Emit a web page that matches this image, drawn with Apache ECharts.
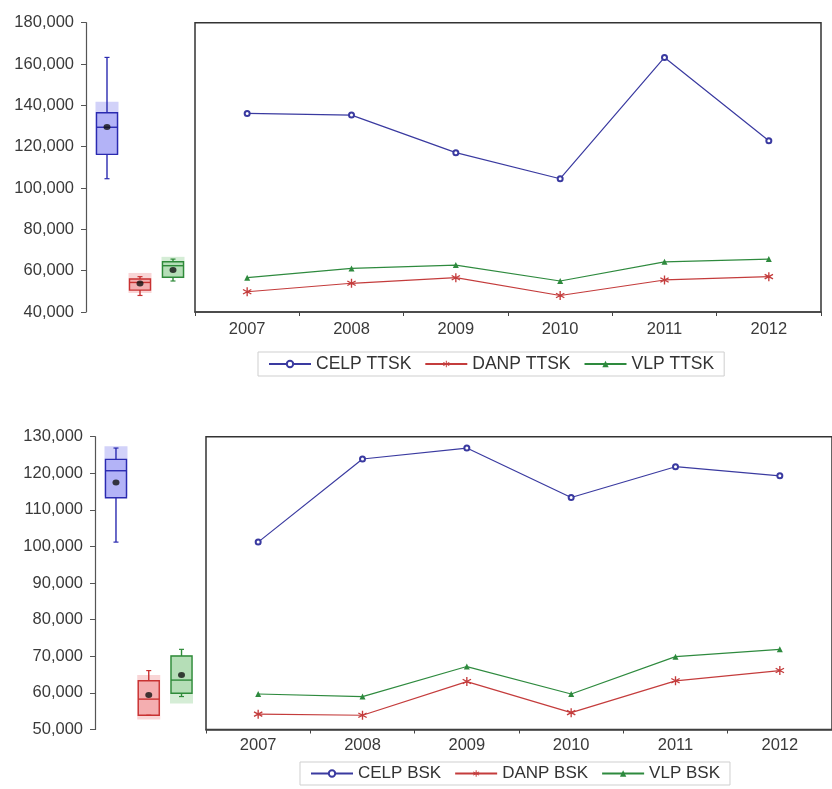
<!DOCTYPE html>
<html>
<head>
<meta charset="utf-8">
<script src="https://cdn.jsdelivr.net/npm/echarts@6/dist/echarts.min.js"></script>
<style>
  html, body { margin: 0; padding: 0; background: #ffffff; }
  #chart { width: 832px; height: 789px; }
</style>
</head>
<body>
<div id="chart"></div>
<script>
// ---------- data ----------
const years = ['2007', '2008', '2009', '2010', '2011', '2012'];
const boxGroups = ['CELP', 'DANP', 'VLP'];

// upper panel (TTSK)
const ttskNames = ['CELP TTSK', 'DANP TTSK', 'VLP TTSK'];
const celpTTSK = [136100, 135300, 117100, 104500, 163200, 122900];
const danpTTSK = [49800, 53900, 56600, 48000, 55500, 57100];
const vlpTTSK  = [56600, 61100, 62700, 55000, 64300, 65600];
// box summaries: [min, q1, median, q3, max]
const ttskBoxes = [
  [104500, 116300, 129400, 136400, 163200],
  [48000, 50600, 54300, 56000, 57100],
  [55000, 56800, 62400, 64300, 65600]
];
const ttskMedianBands = [[116300, 141700], [49200, 58900], [56400, 66700]];
const ttskMeans = [129500, 53800, 60300];
const ttskAxis = [40000, 180000, 20000]; // min, max, step

// lower panel (BSK)
const bskNames = ['CELP BSK', 'DANP BSK', 'VLP BSK'];
const celpBSK = [101200, 123900, 126900, 113400, 121800, 119300];
const danpBSK = [54200, 53900, 63100, 54600, 63300, 66100];
const vlpBSK  = [59700, 59000, 67200, 59700, 69900, 71900];
const bskBoxes = [
  [101200, 113300, 120700, 123800, 126900],
  [53900, 53900, 58300, 63300, 66100],
  [59000, 59900, 63500, 70100, 71900]
];
const bskMedianBands = [[113700, 127400], [52700, 64900], [57100, 70300]];
const bskMeans = [117500, 59400, 64900];
const bskAxis = [50000, 130000, 10000];

// ---------- styling ----------
const FONT = '"Liberation Sans", Arial, Helvetica, sans-serif';
const lineColors = ['#3a3aa0', '#c43c3c', '#2e8a3e'];
const boxPalette = [
  { edge: '#2a2ab0', fill: '#b3b3f7', band: '#d2d2f9' },
  { edge: '#c83232', fill: '#f4aeb0', band: '#f9d5d6' },
  { edge: '#2f8a3a', fill: '#b5deb7', band: '#d5edd6' }
];
// six-armed asterisk built from three thin bars (same winding so they fill solid)
const asterisk = 'path://M-0.7,-5L0.7,-5L0.7,5L-0.7,5Z' +
  'M-4.68,-1.894L-3.98,-3.106L4.68,1.894L3.98,3.106Z' +
  'M-3.98,3.106L-4.68,1.894L3.98,-3.106L4.68,-1.894Z';

const thousands = v => String(v).replace(/\B(?=(\d{3})+(?!\d))/g, ',');

function boxRows(boxes, bands) {
  return boxes.map((b, i) => [i].concat(b, bands[i]));
}

function renderBox(params, api) {
  const i = api.value(0);
  const pal = boxPalette[i];
  const half = 10.5;
  const at = v => api.coord([i, v]);
  const pMin = at(api.value(1)), pQ1 = at(api.value(2)), pMed = at(api.value(3));
  const pQ3 = at(api.value(4)), pMax = at(api.value(5));
  const pLo = at(api.value(6)), pHi = at(api.value(7));
  const x = pMed[0];
  const cap = 2.5;
  return {
    type: 'group',
    children: [
      { type: 'rect', shape: { x: x - half - 1, y: pHi[1], width: 2 * half + 2, height: pLo[1] - pHi[1] },
        style: { fill: pal.band } },
      { type: 'rect', shape: { x: x - half, y: pQ3[1], width: 2 * half, height: pQ1[1] - pQ3[1] },
        style: { fill: pal.fill, stroke: pal.edge, lineWidth: 1.4 } },
      { type: 'line', shape: { x1: x - half, y1: pMed[1], x2: x + half, y2: pMed[1] },
        style: { stroke: pal.edge, lineWidth: 1.4 } },
      { type: 'line', shape: { x1: x, y1: pQ3[1], x2: x, y2: pMax[1] },
        style: { stroke: pal.edge, lineWidth: 1.4 } },
      { type: 'line', shape: { x1: x, y1: pQ1[1], x2: x, y2: pMin[1] },
        style: { stroke: pal.edge, lineWidth: 1.4 } },
      { type: 'line', shape: { x1: x - cap, y1: pMax[1], x2: x + cap, y2: pMax[1] },
        style: { stroke: pal.edge, lineWidth: 1.2 } },
      { type: 'line', shape: { x1: x - cap, y1: pMin[1], x2: x + cap, y2: pMin[1] },
        style: { stroke: pal.edge, lineWidth: 1.2 } }
    ]
  };
}

function valueAxis(gridIndex, range, offset, visible) {
  return {
    type: 'value', gridIndex: gridIndex,
    min: range[0], max: range[1], interval: range[2],
    show: visible, offset: offset,
    axisLine: { show: true, lineStyle: { color: '#555', width: 1.2 } },
    axisTick: { show: true, length: 5, lineStyle: { color: '#555' } },
    axisLabel: { margin: 12, color: '#3a3a3a', fontSize: 16.5, fontFamily: FONT, formatter: thousands },
    splitLine: { show: false }
  };
}

function yearAxis(gridIndex, margin) {
  return {
    type: 'category', gridIndex: gridIndex, data: years, boundaryGap: true,
    axisLine: { show: true, lineStyle: { color: '#444', width: 1.5 } },
    axisTick: { show: true, length: 4, inside: false, lineStyle: { color: '#444' } },
    axisLabel: { margin: margin, color: '#3a3a3a', fontSize: 16.5, fontFamily: FONT },
    splitLine: { show: false }
  };
}

function lineSeries(name, values, idx, axisIdx) {
  const symbols = ['emptyCircle', asterisk, 'triangle'];
  const sizes = [5, 9, 6];
  return {
    name: name, type: 'line', data: values,
    xAxisIndex: axisIdx, yAxisIndex: axisIdx,
    symbol: symbols[idx], symbolSize: sizes[idx], showSymbol: true,
    lineStyle: { color: lineColors[idx], width: 1.2 },
    itemStyle: { color: lineColors[idx], borderColor: lineColors[idx], borderWidth: idx === 0 ? 1.1 : 0 },
    emphasis: { disabled: true }
  };
}

function meanSeries(values, axisIdx) {
  return {
    type: 'scatter', data: values.map((v, i) => [i, v]),
    xAxisIndex: axisIdx, yAxisIndex: axisIdx,
    symbol: 'circle', symbolSize: [7, 6], z: 5,
    itemStyle: { color: '#111' },
    emphasis: { disabled: true }
  };
}

function boxSeries(rows, axisIdx) {
  return {
    type: 'custom', renderItem: renderBox, data: rows,
    xAxisIndex: axisIdx, yAxisIndex: axisIdx,
    encode: { x: 0, y: [1, 2, 3, 4, 5, 6, 7] },
    emphasis: { disabled: true }
  };
}

function legendBlock(names, left, top, size) {
  return {
    data: names, left: left, top: top, orient: 'horizontal',
    itemWidth: 42, itemHeight: 8, itemGap: 13, padding: [3, 10],
    borderColor: '#cfcfcf', borderWidth: 1,
    selectedMode: false,
    textStyle: { fontSize: size, color: '#333', fontFamily: FONT }
  };
}

const chart = echarts.init(document.getElementById('chart'), null, { renderer: 'canvas' });
chart.setOption({
  animation: false,
  backgroundColor: '#ffffff',
  grid: [
    { left: 90.5, top: 22.7, width: 99, height: 289.3 },
    { left: 195, top: 22.7, width: 626, height: 289.3, show: true,
      borderColor: '#333', borderWidth: 1.5, backgroundColor: 'transparent' },
    { left: 99.6, top: 436.7, width: 98.3, height: 292.8 },
    { left: 206, top: 436.7, width: 630, height: 292.8, show: true,
      borderColor: '#333', borderWidth: 1.5, backgroundColor: 'transparent' }
  ],
  xAxis: [
    { type: 'category', gridIndex: 0, data: boxGroups, show: false },
    yearAxis(1, 9),
    { type: 'category', gridIndex: 2, data: boxGroups, show: false },
    yearAxis(3, 7)
  ],
  yAxis: [
    valueAxis(0, ttskAxis, 4.5, true),
    valueAxis(1, ttskAxis, 0, false),
    valueAxis(2, bskAxis, 4.6, true),
    valueAxis(3, bskAxis, 0, false)
  ],
  legend: [
    legendBlock(ttskNames, 258, 352, 17.5),
    legendBlock(bskNames, 300, 762, 17)
  ],
  series: [
    boxSeries(boxRows(ttskBoxes, ttskMedianBands), 0),
    meanSeries(ttskMeans, 0),
    lineSeries(ttskNames[0], celpTTSK, 0, 1),
    lineSeries(ttskNames[1], danpTTSK, 1, 1),
    lineSeries(ttskNames[2], vlpTTSK, 2, 1),
    boxSeries(boxRows(bskBoxes, bskMedianBands), 2),
    meanSeries(bskMeans, 2),
    lineSeries(bskNames[0], celpBSK, 0, 3),
    lineSeries(bskNames[1], danpBSK, 1, 3),
    lineSeries(bskNames[2], vlpBSK, 2, 3)
  ]
});
</script>
</body>
</html>
